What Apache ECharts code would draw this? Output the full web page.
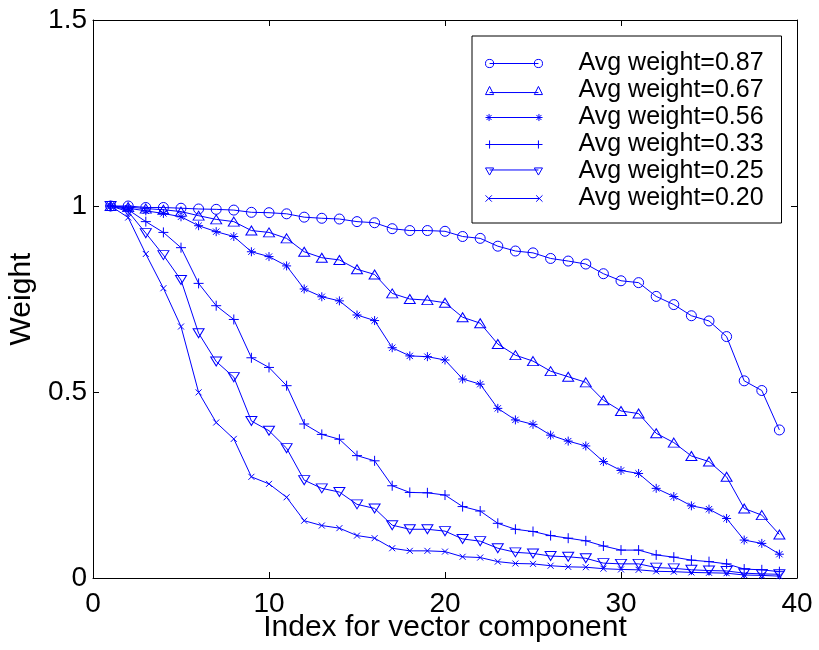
<!DOCTYPE html>
<html>
<head>
<meta charset="utf-8">
<script src="https://cdn.jsdelivr.net/npm/echarts@6/dist/echarts.min.js"></script>
<style>
  html, body { margin: 0; padding: 0; background: #fff; }
  #main { width: 819px; height: 650px; }
</style>
</head>
<body>
<div id="main"></div>
<script>
// index of vector component (x)
const component = [1,2,3,4,5,6,7,8,9,10,11,12,13,14,15,16,17,18,19,20,
  21,22,23,24,25,26,27,28,29,30,31,32,33,34,35,36,37,38,39];

const labels = ['Avg weight=0.87', 'Avg weight=0.67', 'Avg weight=0.56',
  'Avg weight=0.33', 'Avg weight=0.25', 'Avg weight=0.20'];

// weights
const w087 = [1.0,1.0,0.996,0.996,0.994,0.992,0.991,0.989,0.983,0.982,0.979,0.970,0.967,0.965,0.958,
  0.955,0.939,0.934,0.934,0.932,0.918,0.913,0.892,0.879,0.874,0.859,0.852,0.844,0.818,0.799,
  0.794,0.757,0.735,0.705,0.691,0.649,0.530,0.504,0.398];
const w067 = [1.0,0.997,0.993,0.99,0.985,0.974,0.964,0.958,0.934,0.929,0.913,0.877,0.861,0.855,0.830,
  0.816,0.765,0.750,0.747,0.740,0.701,0.685,0.629,0.599,0.583,0.556,0.541,0.526,0.478,0.449,
  0.442,0.389,0.364,0.328,0.313,0.272,0.187,0.169,0.117];
const w056 = [1.0,0.994,0.987,0.980,0.971,0.947,0.931,0.918,0.877,0.864,0.839,0.777,0.756,0.745,0.707,
  0.692,0.619,0.597,0.595,0.586,0.535,0.521,0.456,0.425,0.413,0.384,0.368,0.355,0.313,0.289,
  0.281,0.241,0.219,0.194,0.185,0.160,0.102,0.093,0.064];
const w033 = [1.0,0.99,0.958,0.929,0.888,0.792,0.732,0.695,0.592,0.566,0.517,0.414,0.386,0.373,0.329,
  0.315,0.248,0.230,0.229,0.223,0.192,0.180,0.147,0.131,0.125,0.114,0.107,0.100,0.086,0.075,
  0.075,0.062,0.056,0.048,0.044,0.038,0.024,0.022,0.017];
const w025 = [1.0,0.985,0.927,0.868,0.801,0.658,0.582,0.540,0.422,0.396,0.349,0.263,0.241,0.231,0.198,
  0.187,0.142,0.131,0.131,0.126,0.105,0.099,0.080,0.069,0.066,0.059,0.057,0.053,0.040,0.038,
  0.038,0.028,0.026,0.022,0.020,0.019,0.013,0.011,0.010];
const w020 = [1.0,0.969,0.871,0.779,0.676,0.499,0.418,0.374,0.272,0.253,0.217,0.154,0.141,0.134,0.114,
  0.107,0.080,0.073,0.073,0.071,0.057,0.055,0.044,0.039,0.038,0.033,0.030,0.029,0.025,0.023,
  0.022,0.018,0.017,0.015,0.014,0.013,0.008,0.007,0.005];

const xTicks = [0, 10, 20, 30, 40];
const yTicks = [0, 0.5, 1, 1.5];

const BLUE = '#0000ff';
const FONT = '"Liberation Sans", Arial, Helvetica, sans-serif';

// marker shapes (matlab style, open)
const markers = [
  { symbol: 'circle', size: 10 },
  { symbol: 'triangle', size: [11, 9] },
  { symbol: 'path://M5,0L5,10M0,5L10,5M1.5,1.5L8.5,8.5M8.5,1.5L1.5,8.5', size: 9 },
  { symbol: 'path://M5,0L5,10M0,5L10,5', size: 10 },
  { symbol: 'path://M0,0L10,0L5,8Z', size: [11, 9] },
  { symbol: 'path://M0,0L10,10M10,0L0,10', size: 6 }
];
// legend samples: line with a marker at each end
const legendIcons = [
  'path://M0,5A4,4,0,1,1,8,5A4,4,0,1,1,0,5M4,5L52,5M48,5A4,4,0,1,1,56,5A4,4,0,1,1,48,5',
  'path://M0,9L4,1L8,9ZM4,7L52,7M48,9L52,1L56,9Z',
  'path://M3.5,1.5L3.5,8.5M0,5L7,5M1,2.5L6,7.5M6,2.5L1,7.5M3.5,5L52.5,5M52.5,1.5L52.5,8.5M49,5L56,5M50,2.5L55,7.5M55,2.5L50,7.5',
  'path://M4,1L4,9M0,5L8,5M4,5L52,5M52,1L52,9M48,5L56,5',
  'path://M0,1L8,1L4,8ZM4,3L52,3M48,1L56,1L52,8Z',
  'path://M1,2L7,8M7,2L1,8M4,5L52,5M49,2L55,8M55,2L49,8'
];

const weights = [w087, w067, w056, w033, w025, w020];

const series = weights.map((vals, i) => ({
  name: labels[i],
  type: 'line',
  xAxisIndex: 0,
  yAxisIndex: 0,
  data: vals.map((v, j) => [component[j], v]),
  symbol: markers[i].symbol,
  symbolSize: markers[i].size,
  showAllSymbol: true,
  clip: false,
  lineStyle: { color: BLUE, width: 1 },
  itemStyle: { color: 'transparent', borderColor: BLUE, borderWidth: 1 },
  emphasis: { disabled: true }
}));

const chart = echarts.init(document.getElementById('main'));
chart.setOption({
  animation: false,
  backgroundColor: '#fff',
  grid: {
    left: 93, right: 22, top: 20, bottom: 72,
    show: false,
    containLabel: false,
    outerBoundsMode: 'none'
  },
  legend: {
    orient: 'vertical',
    left: 472,
    top: 36,
    padding: [14, 16, 11, 13],
    itemGap: 0,
    itemWidth: 57,
    itemHeight: 11,
    symbolKeepAspect: true,
    backgroundColor: '#fff',
    borderColor: '#000',
    borderWidth: 1,
    selectedMode: false,
    textStyle: {
      fontFamily: FONT,
      fontSize: 25,
      color: '#000',
      lineHeight: 27,
      width: 187,
      padding: [0, 0, 0, 31]
    },
    data: labels.map((name, i) => ({
      name: name,
      icon: legendIcons[i],
      itemStyle: { color: 'transparent', borderColor: BLUE, borderWidth: 1 }
    }))
  },
  xAxis: [{
    type: 'value',
    min: xTicks[0],
    max: xTicks[xTicks.length - 1],
    interval: 10,
    name: 'Index for vector component',
    nameLocation: 'middle',
    nameGap: 35,
    nameMoveOverlap: false,
    nameTextStyle: { fontFamily: FONT, fontSize: 30, color: '#000' },
    axisLine: { show: true, onZero: false, lineStyle: { color: '#000', width: 1 } },
    axisTick: { show: true, inside: true, length: 6, lineStyle: { color: '#000' } },
    axisLabel: { fontFamily: FONT, fontSize: 28, color: '#000', margin: 12 },
    splitLine: { show: false }
  }, {
    type: 'value',
    position: 'top',
    min: xTicks[0],
    max: xTicks[xTicks.length - 1],
    interval: 10,
    axisLine: { show: true, onZero: false, lineStyle: { color: '#000', width: 1 } },
    axisTick: { show: true, inside: true, length: 6, lineStyle: { color: '#000' } },
    axisLabel: { show: false },
    splitLine: { show: false }
  }],
  yAxis: [{
    type: 'value',
    min: yTicks[0],
    max: yTicks[yTicks.length - 1],
    interval: 0.5,
    name: 'Weight',
    nameLocation: 'middle',
    nameGap: 50,
    nameTextStyle: { fontFamily: FONT, fontSize: 30, color: '#000' },
    axisLine: { show: true, onZero: false, lineStyle: { color: '#000', width: 1 } },
    axisTick: { show: true, inside: true, length: 6, lineStyle: { color: '#000' } },
    axisLabel: { fontFamily: FONT, fontSize: 28, color: '#000', margin: 6 },
    splitLine: { show: false }
  }, {
    type: 'value',
    position: 'right',
    min: yTicks[0],
    max: yTicks[yTicks.length - 1],
    interval: 0.5,
    axisLine: { show: true, onZero: false, lineStyle: { color: '#000', width: 1 } },
    axisTick: { show: true, inside: true, length: 6, lineStyle: { color: '#000' } },
    axisLabel: { show: false },
    splitLine: { show: false }
  }],
  series: series
});
</script>
</body>
</html>
